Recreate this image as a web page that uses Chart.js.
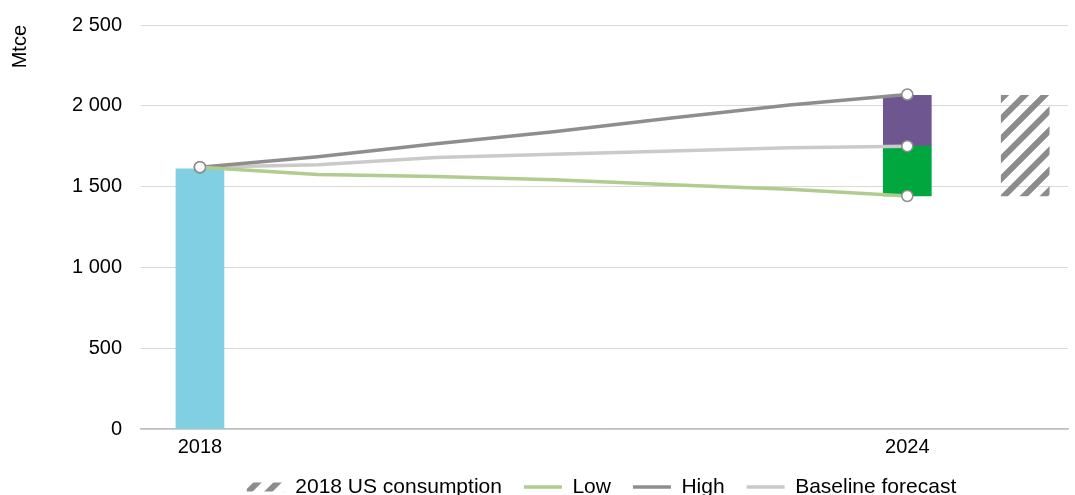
<!DOCTYPE html>
<html>
<head>
<meta charset="utf-8">
<script src="https://cdn.jsdelivr.net/npm/chart.js@4.4.1/dist/chart.umd.min.js"></script>
<style>
  html, body { margin: 0; padding: 0; background: #fff; }
</style>
</head>
<body>
<canvas id="grafico" width="1075" height="495"></canvas>
<script>
// years on the x axis, only the first and last get a label
const years = ["2018", "2019", "2020", "2021", "2022", "2023", "2024"];
const tickYears = ["2018", "2024"];

// Mtce
const consumption2018 = 1610;
const low = [1620, 1575, 1562, 1543, 1512, 1483, 1442];
const high = [1620, 1685, 1765, 1840, 1925, 2005, 2070];
const baseline = [1620, 1635, 1680, 1700, 1720, 1740, 1750];
const lowToBaseline = [1442, 1750];
const baselineToHigh = [1750, 2065];
const usConsumption = [1442, 2065];

const lastYear = years.length - 1;
const usIndex = years.length;

// diagonal hatch for the US bar
function makeHatch() {
  const c = document.createElement("canvas");
  c.width = 20;
  c.height = 20;
  const ctx = c.getContext("2d");
  ctx.strokeStyle = "#8c8c8c";
  ctx.lineWidth = 6;
  ctx.beginPath();
  ctx.moveTo(-10, 10); ctx.lineTo(10, -10);
  ctx.moveTo(0, 20); ctx.lineTo(20, 0);
  ctx.moveTo(10, 30); ctx.lineTo(30, 10);
  ctx.stroke();
  return ctx.createPattern(c, "repeat");
}
const hatch = makeHatch();

function toPoints(values) {
  return values.map((v, i) => ({ x: i, y: v }));
}

function endMarkers(values) {
  return values.map((v, i) => (i === 0 || i === lastYear ? 5.5 : 0));
}

function lineDataset(label, values, color) {
  return {
    type: "line",
    label: label,
    data: toPoints(values),
    borderColor: color,
    backgroundColor: color,
    borderWidth: 3.5,
    tension: 0,
    pointRadius: endMarkers(values),
    pointBackgroundColor: "#ffffff",
    pointBorderColor: "#8c8c8c",
    pointBorderWidth: 1.5,
    order: 1,
  };
}

function barDataset(label, point, color) {
  return {
    type: "bar",
    label: label,
    data: [point],
    backgroundColor: color,
    borderWidth: 0,
    barThickness: 48,
    grouped: false,
    order: 2,
  };
}

const inLegend = ["2018 US consumption", "Low", "High", "Baseline forecast"];

// nudge the legend to where the original has it
const moveLegend = {
  id: "moveLegend",
  afterLayout(chart) {
    const legend = chart.legend;
    legend.left += 64;
    legend.right += 64;
    legend.top -= 10.5;
    legend.bottom -= 10.5;
  },
};

Chart.defaults.font.family = "'Liberation Sans', Arial, sans-serif";
Chart.defaults.font.size = 20;
Chart.defaults.color = "#000000";

const grafico = new Chart(document.getElementById("grafico"), {
  data: {
    datasets: [
      barDataset("2018 consumption", { x: 0, y: consumption2018 }, "#80cfe2"),
      barDataset("Low to baseline", { x: lastYear, y: lowToBaseline }, "#00a63e"),
      barDataset("Baseline to high", { x: lastYear, y: baselineToHigh }, "#6e5690"),
      barDataset("2018 US consumption", { x: usIndex, y: usConsumption }, hatch),
      lineDataset("Low", low, "#b0cc8e"),
      lineDataset("High", high, "#8e8e8e"),
      lineDataset("Baseline forecast", baseline, "#cacaca"),
    ],
  },
  options: {
    responsive: false,
    animation: false,
    events: [],
    layout: { padding: { top: 25, left: 0, right: 0, bottom: -23 } },
    scales: {
      x: {
        type: "linear",
        min: -0.5,
        max: 7.363,
        offset: false,
        grid: { display: false, drawTicks: false },
        border: { display: true, color: "#bfbfbf", width: 1.5 },
        afterBuildTicks: (scale) => {
          scale.ticks = tickYears.map((y) => ({ value: years.indexOf(y) }));
        },
        afterFit: (scale) => {
          scale.paddingLeft = 0;
          scale.paddingRight = 0;
        },
        ticks: {
          padding: 6,
          autoSkip: false,
          maxRotation: 0,
          callback: (value) => years[value],
        },
      },
      y: {
        min: 0,
        max: 2500,
        grid: { color: "#d9d9d9", lineWidth: 1, drawTicks: false },
        border: { display: false },
        afterFit: (scale) => {
          scale.width = 141;
          scale.paddingTop = 0;
          scale.paddingBottom = 0;
        },
        ticks: {
          stepSize: 500,
          padding: 19,
          callback: (value) => String(value).replace(/\B(?=(\d{3})+(?!\d))/g, " "),
        },
        title: {
          display: true,
          text: "Mtce",
          align: "end",
          padding: { top: 8, bottom: 39 },
        },
      },
    },
    plugins: {
      tooltip: { enabled: false },
      legend: {
        position: "bottom",
        labels: {
          usePointStyle: true,
          pointStyleWidth: 38,
          boxHeight: 9,
          padding: 22,
          font: { size: 21 },
          sort: (a, b) => a.datasetIndex - b.datasetIndex,
          filter: (item) => inLegend.includes(item.text),
          generateLabels: (chart) => {
            const items = Chart.defaults.plugins.legend.labels.generateLabels(chart);
            items.forEach((item) => {
              const ds = chart.data.datasets[item.datasetIndex];
              if (ds.type === "line") {
                item.pointStyle = "line";
                item.lineWidth = 3.5;
                item.strokeStyle = ds.borderColor;
              } else {
                item.pointStyle = "rect";
                item.lineWidth = 0;
              }
            });
            return items;
          },
        },
      },
    },
  },
  plugins: [moveLegend],
});
</script>
</body>
</html>
